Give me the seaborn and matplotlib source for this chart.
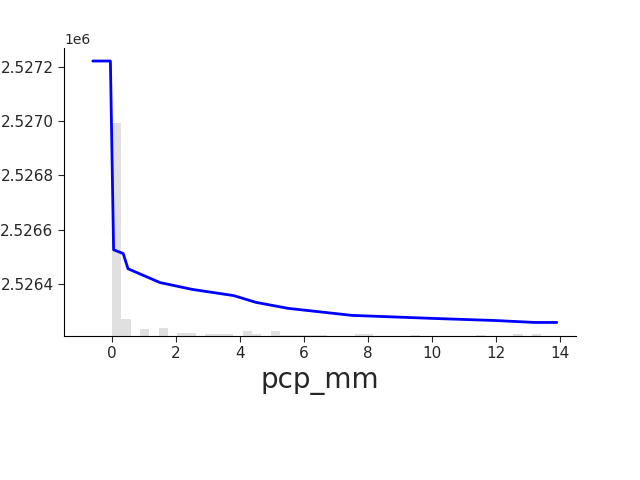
import numpy as np
import matplotlib
matplotlib.use("Agg")
import matplotlib.pyplot as plt
import seaborn as sns

# partial dependence line
pdp_x = [-0.6, -0.05, 0.05, 0.35, 0.5, 1.5, 2.5, 3.8, 4.5, 5.5, 7.5, 10.0, 12.0, 13.2, 13.9]
pdp_y = [2527222, 2527222, 2526526, 2526512, 2526456, 2526405, 2526380, 2526357,
         2526332, 2526310, 2526284, 2526273, 2526265, 2526258, 2526258]

# feature distribution (relative bar heights, 48 bins over 0..14)
hist_bins = np.linspace(0, 14, 49)
hist_counts = [213, 17, 0, 7, 0, 8, 0, 3, 3, 0, 2, 2, 2, 0, 5, 2, 0, 5, 1, 1,
               1, 1, 1, 0, 0, 0, 2, 2, 0, 0, 0, 0, 1, 0, 0, 0, 0, 0, 0, 1,
               0, 0, 0, 2, 0, 2, 0, 0]

sns.set_style("white")
fig = plt.figure(figsize=(6.4, 4.8), dpi=100)
ax = fig.add_axes([0.1, 0.3, 0.8, 0.6])
ax2 = ax.twinx()

centers = (hist_bins[:-1] + hist_bins[1:]) / 2
ax2.bar(centers, hist_counts, width=hist_bins[1] - hist_bins[0], color="#e0e0e0", linewidth=0)
ax2.set_ylim(0, 288)
ax2.axis("off")

sns.lineplot(x=pdp_x, y=pdp_y, ax=ax, color="blue", linewidth=2)
ax.set_zorder(ax2.get_zorder() + 1)
ax.patch.set_visible(False)
ax.set_ylim(2526208, 2527270)
ax.set_xlim(-1.5, 14.5)
ax.set_xticks([0, 2, 4, 6, 8, 10, 12, 14])
ax.set_yticks([2526400, 2526600, 2526800, 2527000, 2527200])
ax.tick_params(axis="both", length=4, labelsize=11, left=True, bottom=True)
ax.set_xlabel("pcp_mm", fontsize=20)
for s in ["top", "right"]:
    ax.spines[s].set_visible(False)
for s in ["left", "bottom"]:
    ax.spines[s].set_color("black")

fig.savefig("out.png", dpi=100)
